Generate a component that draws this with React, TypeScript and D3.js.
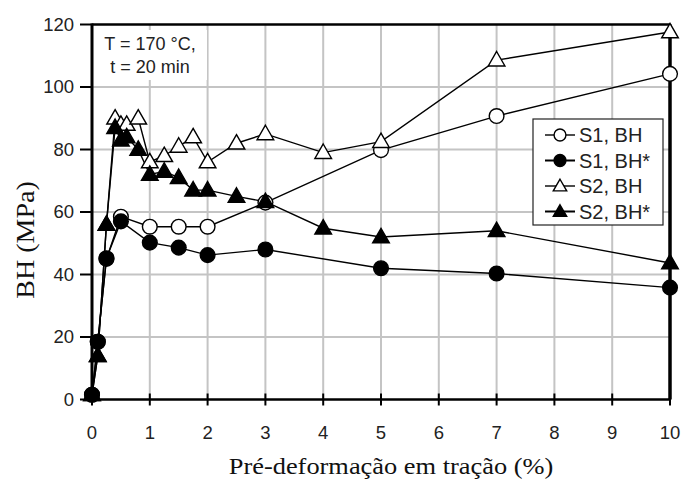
import React from "react";
import * as d3 from "d3";

// Pré-deformação (%) x BH (MPa)
const s1Strain = [0, 0.1, 0.25, 0.5, 1, 1.5, 2, 3, 5, 7, 10];
const s1BH = [1.5, 18.5, 45, 58.5, 55.3, 55.3, 55.3, 63, 79.8, 90.7, 104.2];
const s1BHstar = [1.5, 18.5, 45.2, 57, 50.2, 48.6, 46.2, 48, 42, 40.3, 35.8];

const s2Strain = [0, 0.1, 0.25, 0.4, 0.5, 0.6, 0.8, 1, 1.25, 1.5, 1.75, 2, 2.5, 3, 4, 5, 7, 10];
const s2BH = [1.5, 14, 56, 90, 88, 88, 90, 76, 78, 81, 84, 76, 82, 85, 79, 82.5, 108.6, 117.6];
const s2BHstar = [1.5, 14, 56, 87, 83, 84, 80, 72, 73, 71, 67, 67, 65, 63.3, 54.8, 52, 54, 43.7];

const xTicks = [0, 1, 2, 3, 4, 5, 6, 7, 8, 9, 10];
const yTicks = [0, 20, 40, 60, 80, 100, 120];

const legendLabels = ["S1, BH", "S1, BH*", "S2, BH", "S2, BH*"];

type Series = { xs: number[]; ys: number[]; shape: "circle" | "triangle"; filled: boolean };

const series: Series[] = [
  { xs: s1Strain, ys: s1BH, shape: "circle", filled: false },
  { xs: s1Strain, ys: s1BHstar, shape: "circle", filled: true },
  { xs: s2Strain, ys: s2BH, shape: "triangle", filled: false },
  { xs: s2Strain, ys: s2BHstar, shape: "triangle", filled: true },
];

const sans = "'Liberation Sans', Arial, sans-serif";
const serif = "'Liberation Serif', 'Times New Roman', serif";

function Marker({ x, y, shape, filled, scale = 1 }: { x: number; y: number; shape: string; filled: boolean; scale?: number }) {
  const sym = shape === "circle" ? d3.symbolCircle : d3.symbolTriangle;
  const size = shape === "circle" ? 170 * scale : 120 * scale;
  const path = d3.symbol().type(sym).size(size)()!;
  return (
    <path
      d={path}
      transform={`translate(${x},${y + (shape === "triangle" ? 1 : 0)})`}
      fill={filled ? "#000" : "#fff"}
      stroke="#000"
      strokeWidth={1.4}
    />
  );
}

export default function App() {
  const width = 684;
  const height = 479;
  const m = { left: 92, right: 670, top: 24.5, bottom: 399.5 };

  const x = d3.scaleLinear().domain([0, 10]).range([m.left, m.right]);
  const y = d3.scaleLinear().domain([0, 120]).range([m.bottom, m.top]);

  const line = (xs: number[], ys: number[]) =>
    d3.line<number>().x((_, i) => x(xs[i])).y((d) => y(d))(ys) || "";

  return (
    <svg width={width} height={height} style={{ position: "absolute", left: 0, top: 0, background: "#fff" }}>
      {/* grid */}
      {xTicks.slice(1, -1).map((t) => (
        <line key={"gx" + t} x1={x(t)} x2={x(t)} y1={m.top} y2={m.bottom} stroke="#c4c4c4" strokeWidth={2} />
      ))}
      {yTicks.slice(1, -1).map((t) => (
        <line key={"gy" + t} x1={m.left} x2={m.right} y1={y(t)} y2={y(t)} stroke="#c4c4c4" strokeWidth={2} />
      ))}

      {/* frame */}
      <line x1={m.left} x2={m.right} y1={m.top} y2={m.top} stroke="#000" strokeWidth={2.5} />
      <line x1={m.right} x2={m.right} y1={m.top} y2={m.bottom} stroke="#000" strokeWidth={3.5} />
      <line x1={m.left} x2={m.right} y1={m.bottom} y2={m.bottom} stroke="#000" strokeWidth={2.5} />
      <line x1={m.left} x2={m.left} y1={m.top - 1} y2={m.bottom + 1} stroke="#000" strokeWidth={3} />

      {/* y ticks */}
      {yTicks.map((t) => (
        <g key={"yt" + t}>
          <line x1={m.left - 12} x2={m.left} y1={y(t)} y2={y(t)} stroke="#000" strokeWidth={2} />
          <text x={74} y={y(t)} dy="0.35em" textAnchor="end" fontFamily={sans} fontSize={18.5} fill="#222">
            {t}
          </text>
        </g>
      ))}
      {/* x ticks */}
      {xTicks.map((t) => (
        <g key={"xt" + t}>
          <line x1={x(t)} x2={x(t)} y1={m.bottom - 6} y2={m.bottom + 6} stroke="#000" strokeWidth={2} />
          <text x={x(t)} y={439} textAnchor="middle" fontFamily={sans} fontSize={18.5} fill="#222">
            {t}
          </text>
        </g>
      ))}

      {/* axis titles */}
      <text
        transform="translate(391,474) scale(1.1,1)"
        textAnchor="middle"
        fontFamily={serif}
        fontSize={24}
        fill="#111"
      >
        Pré-deformação em tração (%)
      </text>
      <text
        transform="translate(34,240) rotate(-90) scale(1.12,1)"
        textAnchor="middle"
        fontFamily={serif}
        fontSize={25}
        fill="#111"
      >
        BH (MPa)
      </text>

      {/* annotation */}
      <rect x={95} y={30} width={112} height={50} fill="#fff" />
      <text x={150} y={50} textAnchor="middle" fontFamily={sans} fontSize={18} fill="#222">
        T = 170 °C,
      </text>
      <text x={150} y={73} textAnchor="middle" fontFamily={sans} fontSize={18} fill="#222">
        t = 20 min
      </text>

      {/* series */}
      {series.map((s, i) => (
        <path key={"l" + i} d={line(s.xs, s.ys)} fill="none" stroke="#000" strokeWidth={1.4} />
      ))}
      {series.map((s, i) =>
        s.ys.map((v, j) => (
          <Marker key={`m${i}-${j}`} x={x(s.xs[j])} y={y(v)} shape={s.shape} filled={s.filled} />
        ))
      )}

      {/* legend */}
      <rect x={533} y={119} width={130} height={106} fill="#fff" stroke="#222" strokeWidth={1.2} />
      {series.map((s, i) => {
        const ly = 135 + i * 25.5;
        return (
          <g key={"lg" + i}>
            <line x1={545} x2={575} y1={ly} y2={ly} stroke="#000" strokeWidth={s.filled ? 2 : 1.4} />
            <Marker x={560} y={ly} shape={s.shape} filled={s.filled} scale={0.65} />
            <text x={579} y={ly} dy="0.36em" fontFamily={sans} fontSize={20} fill="#222">
              {legendLabels[i]}
            </text>
          </g>
        );
      })}
    </svg>
  );
}
